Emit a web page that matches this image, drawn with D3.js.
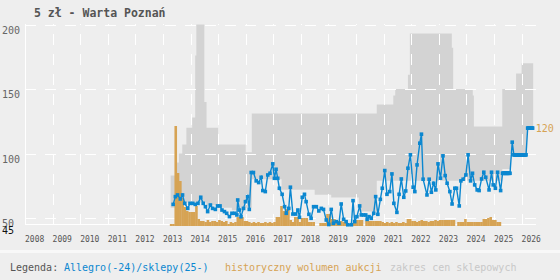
<!DOCTYPE html>
<html>
<head>
<meta charset="utf-8">
<script src="https://cdn.jsdelivr.net/npm/d3@7"></script>
<style>
  body { margin: 0; background: #eeeeee; }
  svg { display: block; font-family: "DejaVu Sans Mono", monospace; }
</style>
</head>
<body>
<div id="chart"></div>
<script>
var svgWidth = 560;
var svgHeight = 280;

// axis ticks
var yearTicks = [2008, 2009, 2010, 2011, 2012, 2013, 2014, 2015, 2016, 2017,
  2018, 2019, 2020, 2021, 2022, 2023, 2024, 2025, 2026];
var gridValues = [200, 150, 100, 50];
var priceLabels = [200, 150, 100, 50, 45];

// Allegro / shops price (blue line), decimal years
var priceYears = [2013.37, 2013.45, 2013.53, 2013.63, 2013.71, 2013.79, 2013.90, 2013.98,
  2014.08, 2014.17, 2014.27, 2014.37, 2014.46, 2014.54, 2014.62, 2014.72, 2014.80, 2014.90, 2014.98,
  2015.07, 2015.14, 2015.23, 2015.31, 2015.41, 2015.50, 2015.60, 2015.68, 2015.71, 2015.77, 2015.83, 2015.92, 2015.99,
  2016.07, 2016.13, 2016.20, 2016.28, 2016.38, 2016.47, 2016.56, 2016.62, 2016.71, 2016.80, 2016.88, 2016.98,
  2017.04, 2017.10, 2017.16, 2017.22, 2017.32, 2017.41, 2017.47, 2017.56, 2017.62, 2017.71, 2017.81, 2017.89, 2017.95,
  2018.05, 2018.13, 2018.19, 2018.29, 2018.37, 2018.46, 2018.56, 2018.65, 2018.74, 2018.82, 2018.92,
  2019.01, 2019.10, 2019.18, 2019.28, 2019.38, 2019.46, 2019.55, 2019.64, 2019.70, 2019.83, 2019.89, 2019.95,
  2020.03, 2020.13, 2020.19, 2020.27, 2020.35, 2020.40, 2020.47, 2020.55, 2020.64, 2020.71, 2020.79, 2020.88, 2020.95,
  2021.04, 2021.12, 2021.22, 2021.30, 2021.37, 2021.48, 2021.56, 2021.64, 2021.73, 2021.80, 2021.88, 2021.97,
  2022.07, 2022.13, 2022.21, 2022.31, 2022.37, 2022.43, 2022.57, 2022.65, 2022.73, 2022.81, 2022.89, 2022.97,
  2023.06, 2023.15, 2023.23, 2023.30, 2023.40, 2023.48, 2023.58, 2023.64, 2023.74, 2023.80, 2023.88, 2023.98,
  2024.06, 2024.15, 2024.22, 2024.30, 2024.39, 2024.46, 2024.55, 2024.63, 2024.70, 2024.82, 2024.91, 2024.97,
  2025.05, 2025.13, 2025.24, 2025.31, 2025.33, 2025.35, 2025.37, 2025.39, 2025.41, 2025.43, 2025.45,
  2025.47, 2025.49, 2025.51, 2025.53, 2025.55, 2025.58, 2025.66, 2025.72, 2025.74, 2025.76, 2025.78,
  2025.80, 2025.82, 2025.84, 2025.86, 2025.88, 2025.90, 2025.92, 2025.94, 2025.96, 2025.98, 2026.00,
  2026.02, 2026.04, 2026.06, 2026.08, 2026.10, 2026.12, 2026.14, 2026.16, 2026.22, 2026.24, 2026.26,
  2026.28, 2026.30, 2026.32, 2026.34, 2026.36, 2026.38, 2026.40];
var priceValues = [60.6, 66.6, 67.9, 64.8, 67.9, 61.4, 57.5, 61.4,
  61.4, 60.6, 61.4, 66.1, 61.4, 58.8, 55.0, 60.1, 57.5, 56.7, 59.4,
  59.4, 56.2, 55.0, 53.7, 51.1, 53.7, 53.7, 52.4, 64.0, 56.2, 51.1, 57.5, 62.7,
  66.6, 56.7, 85.3, 85.3, 78.8, 77.5, 81.6, 71.3, 70.5, 83.4, 84.7, 92.0,
  80.8, 87.8, 80.8, 73.1, 68.4, 58.8, 53.7, 57.5, 73.9, 53.1, 53.1, 56.2, 50.6,
  66.1, 68.4, 62.7, 52.9, 49.8, 58.8, 58.8, 55.5, 57.5, 56.7, 48.5,
  45.0, 56.7, 45.9, 47.2, 45.9, 60.9, 49.0, 47.2, 44.8, 44.8, 63.5, 47.2,
  51.1, 59.4, 52.4, 52.4, 52.4, 49.0, 51.1, 49.8, 53.7, 66.6, 52.9, 64.5, 73.1,
  86.8, 68.4, 70.5, 84.2, 61.4, 54.4, 68.4, 80.3, 66.1, 71.0, 88.6, 99.0,
  73.9, 70.5, 91.2, 108.0, 115.0, 80.1, 67.9, 80.1, 70.0, 77.0, 71.8, 92.0,
  80.9, 98.2, 82.9, 77.0, 70.5, 60.9, 73.1, 73.1, 59.4, 78.8, 80.1, 83.4,
  99.0, 78.8, 84.7, 75.7, 71.8, 71.3, 80.3, 85.5, 81.6, 71.8, 85.5, 75.7,
  73.1, 85.5, 71.3, 84.7, 84.7, 84.7, 84.7, 84.7, 84.7, 84.7, 84.7,
  84.7, 84.7, 84.7, 84.7, 84.7, 84.7, 108.8, 99.0, 99.0, 99.0, 99.0,
  99.0, 99.0, 99.0, 99.0, 99.0, 99.0, 99.0, 99.0, 99.0, 99.0, 99.0,
  99.0, 99.0, 99.0, 99.0, 99.0, 99.0, 99.0, 99.0, 119.7, 119.7, 119.7,
  119.7, 119.7, 119.7, 119.7, 119.7, 119.7, 119.7];
var lastLabel = "120";

// historical auction volume (orange), monthly from 2013-04
var volumeStart = [2013, 4];
var volumeValues = [2, 2, 100, 53, 45, 28, 19, 15, 14,
  14, 14, 20, 7, 5, 5, 4, 6, 4, 5, 5, 4,
  6, 5, 4, 5, 2, 4, 3, 4, 9, 9, 9, 5,
  5, 4, 3, 4, 3, 4, 3, 3, 4, 3, 4, 3,
  4, 9, 9, 20, 15, 17, 17, 6, 4, 9, 9, 4,
  8, 8, 8, 4, 4, 4, 0, 0, 3, 3, 3, 12,
  12, 7, 7, 5, 5, 5, 4, 4, 2, 2, 3, 6,
  6, 6, 6, 0, 5, 5, 5, 5, 5, 5, 5, 4,
  3, 4, 3, 4, 3, 4, 3, 3, 4, 3, 7, 7,
  5, 5, 4, 5, 6, 5, 5, 4, 5, 5, 6, 5,
  6, 6, 6, 6, 6, 6, 6, 0, 4, 4, 4, 7,
  4, 4, 4, 4, 4, 4, 4, 7, 7, 8, 9, 6,
  6, 4, 4];

// shop price range (grey band), step starts
var rangeYears = [2013.28, 2013.45, 2013.58, 2013.70, 2013.85, 2014.06, 2014.17, 2014.21, 2014.50,
  2014.58, 2015.00, 2015.50, 2016.00, 2016.22, 2017.30, 2018.50, 2019.10, 2020.10, 2020.75,
  2021.35, 2021.42, 2021.80, 2021.88, 2021.95, 2023.47, 2023.52, 2024.23, 2024.27, 2025.30,
  2025.60, 2025.80, 2026.00, 2026.20, 2026.42];
var rangeLow = [58, 58, 58, 60, 62, 62, 62, 62, 62,
  60, 58, 56, 58, 80, 72, 68, 66, 55, 79,
  79, 79, 79, 79, 79, 79, 79, 79, 79, 88,
  100, 100, 100, 120, 120];
var rangeHigh = [83, 93, 100, 107, 120, 128, 176, 200, 140,
  120, 107, 107, 101, 131, 131, 131, 131, 131, 138,
  145, 150, 150, 161, 193, 182, 150, 145, 121, 150,
  150, 162, 170, 170, 170];

var svg = d3.select("#chart")
  .append("svg")
  .attr("width", svgWidth)
  .attr("height", svgHeight);

// scales
var x = d3.scaleLinear().domain([2008, 2026]).range([25, 521.6]);
var y = d3.scaleLinear().domain([45, 200]).range([224.5, 24.5]);
var yVol = d3.scaleLinear().domain([0, 100]).range([226, 126]);
var xRight = 536;

// legend strip
svg.append("rect")
  .attr("x", 0).attr("y", 250)
  .attr("width", svgWidth).attr("height", 3)
  .attr("fill", "#f8f8f8");

// title
svg.append("text")
  .attr("x", 34).attr("y", 16.5)
  .attr("font-size", "11.5px")
  .attr("font-weight", "bold")
  .attr("fill", "#555")
  .text("5 zł - Warta Poznań");

// grey band
var rangeData = rangeYears.map((d, i) => ({ t: d, lo: rangeLow[i], hi: rangeHigh[i] }));
svg.append("path")
  .datum(rangeData)
  .attr("fill", "#d3d3d3")
  .attr("d", d3.area()
    .curve(d3.curveStepAfter)
    .x(d => x(d.t))
    .y0(d => y(d.lo))
    .y1(d => y(d.hi)));

// grid
var grid = svg.append("g").attr("stroke", "#fff").attr("stroke-width", 1);
grid.selectAll("line.h")
  .data(gridValues)
  .enter()
  .append("line")
  .attr("x1", 25).attr("x2", xRight)
  .attr("y1", d => Math.round(y(d)) + 0.5)
  .attr("y2", d => Math.round(y(d)) + 0.5)
  .attr("stroke-dasharray", "11,9");
grid.selectAll("line.v")
  .data(yearTicks.slice(1))
  .enter()
  .append("line")
  .attr("x1", d => Math.round(x(d)) + 0.5)
  .attr("x2", d => Math.round(x(d)) + 0.5)
  .attr("y1", 225).attr("y2", 24)
  .attr("stroke-dasharray", "11,9");
grid.append("line")
  .attr("x1", 25.5).attr("x2", 25.5)
  .attr("y1", 24).attr("y2", 225);
grid.append("line")
  .attr("x1", 25).attr("x2", xRight)
  .attr("y1", 224.5).attr("y2", 224.5);

// volume bars
var volumeData = volumeValues.map(function(v, i) {
  var t = volumeStart[0] + (volumeStart[1] - 1 + i) / 12;
  return { t: t, v: v };
});
svg.append("g")
  .selectAll("rect")
  .data(volumeData.filter(d => d.v > 0))
  .enter()
  .append("rect")
  .attr("x", d => x(d.t))
  .attr("width", x(2008 + 1 / 12) - x(2008) + 0.3)
  .attr("y", d => yVol(d.v))
  .attr("height", d => yVol(0) - yVol(d.v))
  .attr("fill", "#d6a354");

// price line
var priceData = priceYears.map((d, i) => ({ t: d, v: priceValues[i] }));
svg.append("path")
  .datum(priceData)
  .attr("fill", "none")
  .attr("stroke", "#0b87d0")
  .attr("stroke-width", 1.4)
  .attr("d", d3.line().x(d => x(d.t)).y(d => y(d.v)));
svg.append("g")
  .selectAll("rect")
  .data(priceData)
  .enter()
  .append("rect")
  .attr("x", d => x(d.t) - 1.8)
  .attr("y", d => y(d.v) - 1.8)
  .attr("width", 3.6)
  .attr("height", 3.6)
  .attr("fill", "#0b87d0");

var last = priceData[priceData.length - 1];
svg.append("text")
  .attr("x", x(last.t) + 3)
  .attr("y", y(last.v) + 4)
  .attr("font-size", "10px")
  .attr("fill", "#d6a354")
  .text(lastLabel);

// y labels
svg.append("g")
  .selectAll("text")
  .data(priceLabels)
  .enter()
  .append("text")
  .attr("x", 2)
  .attr("y", d => Math.round(y(d)) + 8.5)
  .attr("font-size", "10px")
  .attr("fill", d => d == 45 ? "#111" : "#666")
  .text(d => d);

// x labels
svg.append("g")
  .selectAll("text")
  .data(yearTicks)
  .enter()
  .append("text")
  .attr("x", d => x(d))
  .attr("y", 242)
  .attr("font-size", "8px")
  .attr("fill", "#555")
  .text(d => d);

// legend
var legend = [
  { x: 10, text: "Legenda:", color: "#555" },
  { x: 64, text: "Allegro(-24)/sklepy(25-)", color: "#0b87d0" },
  { x: 225, text: "historyczny wolumen aukcji", color: "#d6a354" },
  { x: 390, text: "zakres cen sklepowych", color: "#c8c8c8" }
];
svg.append("g")
  .selectAll("text")
  .data(legend)
  .enter()
  .append("text")
  .attr("x", d => d.x)
  .attr("y", 271)
  .attr("font-size", "10px")
  .attr("fill", d => d.color)
  .text(d => d.text);
</script>
</body>
</html>
